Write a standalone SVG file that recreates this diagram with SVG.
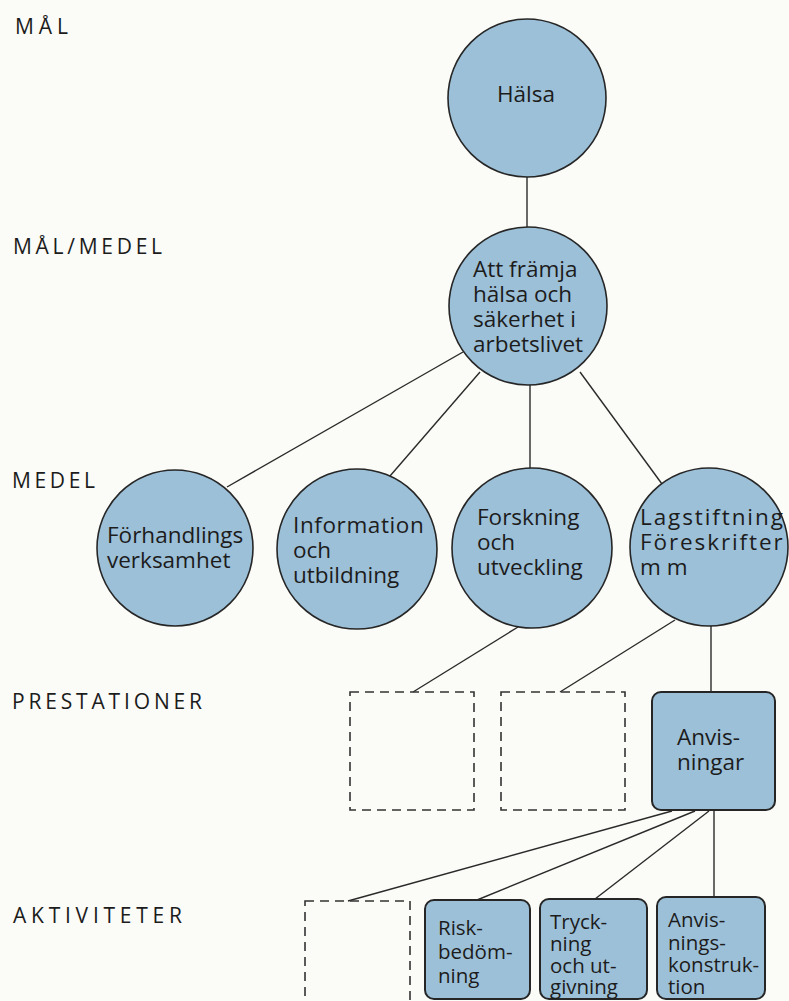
<svg xmlns="http://www.w3.org/2000/svg" width="789" height="1001" viewBox="0 0 789 1001">
  <defs>
    <style>
      .bg { fill: #fbfbf7; }
      .node { fill: #9cc0d8; stroke: #262626; stroke-width: 1.6; }
      .box { fill: #9cc0d8; stroke: #262626; stroke-width: 2; }
      .ghost { fill: none; stroke: #333; stroke-width: 1.6; stroke-dasharray: 9 6; }
      .edge { stroke: #2a2a2a; stroke-width: 1.4; fill: none; }
      .txt { font-family: "Open Sans", "DejaVu Sans", sans-serif; font-size: 22.5px; fill: #1c1c1c; }
      .small { font-family: "Open Sans", "DejaVu Sans", sans-serif; font-size: 20.5px; fill: #1c1c1c; }
      .lvl { font-family: "Open Sans", "DejaVu Sans", sans-serif; font-size: 21px; fill: #1c1c1c; }
    </style>
  </defs>

  <rect class="bg" x="0" y="0" width="789" height="1001"/>

  <!-- level labels -->
  <g id="levels">
    <text class="lvl" x="15" y="34" textLength="53" lengthAdjust="spacing">MÅL</text>
    <text class="lvl" x="13" y="254" textLength="149" lengthAdjust="spacing">MÅL/MEDEL</text>
    <text class="lvl" x="12" y="488" textLength="83" lengthAdjust="spacing">MEDEL</text>
    <text class="lvl" x="12" y="709" textLength="190" lengthAdjust="spacing">PRESTATIONER</text>
    <text class="lvl" x="13" y="923" textLength="169" lengthAdjust="spacing">AKTIVITETER</text>
  </g>

  <!-- connectors -->
  <g id="connectors">
    <line class="edge" x1="527" y1="177" x2="527" y2="228"/>
    <line class="edge" x1="463" y1="352" x2="227" y2="487"/>
    <line class="edge" x1="480" y1="372" x2="390" y2="476"/>
    <line class="edge" x1="530" y1="385" x2="530" y2="469"/>
    <line class="edge" x1="580" y1="372" x2="662" y2="484"/>
    <line class="edge" x1="518" y1="627" x2="413" y2="692"/>
    <line class="edge" x1="675" y1="620" x2="560" y2="692"/>
    <line class="edge" x1="711" y1="624" x2="711" y2="692"/>
    <line class="edge" x1="672" y1="811" x2="348" y2="901"/>
    <line class="edge" x1="695" y1="811" x2="477" y2="900"/>
    <line class="edge" x1="709" y1="811" x2="595" y2="899"/>
    <line class="edge" x1="714" y1="811" x2="714" y2="897"/>
  </g>

  <!-- goal -->
  <g id="halsa">
    <circle class="node" cx="527" cy="98" r="79"/>
    <text class="txt" x="497" y="102">Hälsa</text>
  </g>

  <!-- goal / means -->
  <g id="framja">
    <circle class="node" cx="528" cy="306" r="79"/>
    <text class="txt">
      <tspan x="473" y="277">Att främja</tspan>
      <tspan x="473" y="302">hälsa och</tspan>
      <tspan x="473" y="327">säkerhet i</tspan>
      <tspan x="473" y="352">arbetslivet</tspan>
    </text>
  </g>

  <!-- means -->
  <g id="forhandling">
    <circle class="node" cx="175" cy="548" r="78"/>
    <text class="txt">
      <tspan x="107" y="543">Förhandlings</tspan>
      <tspan x="107" y="568">verksamhet</tspan>
    </text>
  </g>
  <g id="information">
    <circle class="node" cx="357" cy="549" r="80"/>
    <text class="txt">
      <tspan x="293" y="533" letter-spacing="0.6">Information</tspan>
      <tspan x="293" y="558">och</tspan>
      <tspan x="293" y="583">utbildning</tspan>
    </text>
  </g>
  <g id="forskning">
    <circle class="node" cx="532" cy="548" r="80"/>
    <text class="txt">
      <tspan x="477" y="525">Forskning</tspan>
      <tspan x="477" y="550">och</tspan>
      <tspan x="477" y="575">utveckling</tspan>
    </text>
  </g>
  <g id="lagstiftning">
    <circle class="node" cx="709" cy="547" r="79"/>
    <text class="txt" letter-spacing="1.9">
      <tspan x="640" y="525">Lagstiftning</tspan>
      <tspan x="640" y="550">Föreskrifter</tspan>
      <tspan x="640" y="575" letter-spacing="0">m m</tspan>
    </text>
  </g>

  <!-- outputs -->
  <g id="prestation-1">
    <rect class="ghost" x="350" y="692" width="124" height="118"/>
  </g>
  <g id="prestation-2">
    <rect class="ghost" x="501" y="692" width="124" height="118"/>
  </g>
  <g id="anvisningar">
    <rect class="box" x="652" y="692" width="123" height="118" rx="9"/>
    <text class="txt">
      <tspan x="677" y="745">Anvis-</tspan>
      <tspan x="677" y="770">ningar</tspan>
    </text>
  </g>

  <!-- activities -->
  <g id="aktivitet-1">
    <rect class="ghost" x="305" y="901" width="105" height="115"/>
  </g>
  <g id="riskbedomning">
    <rect class="box" x="425" y="900" width="105" height="99" rx="9"/>
    <text class="small">
      <tspan x="438" y="935">Risk-</tspan>
      <tspan x="438" y="959">bedöm-</tspan>
      <tspan x="438" y="983">ning</tspan>
    </text>
  </g>
  <g id="tryckning">
    <rect class="box" x="540" y="899" width="107" height="100" rx="9"/>
    <text class="small">
      <tspan x="550" y="929">Tryck-</tspan>
      <tspan x="550" y="951">ning</tspan>
      <tspan x="550" y="973">och ut-</tspan>
      <tspan x="550" y="994">givning</tspan>
    </text>
  </g>
  <g id="anvisningskonstruktion">
    <rect class="box" x="657" y="897" width="108" height="102" rx="9"/>
    <text class="small">
      <tspan x="668" y="927">Anvis-</tspan>
      <tspan x="668" y="950">nings-</tspan>
      <tspan x="668" y="972">konstruk-</tspan>
      <tspan x="668" y="994">tion</tspan>
    </text>
  </g>
</svg>
